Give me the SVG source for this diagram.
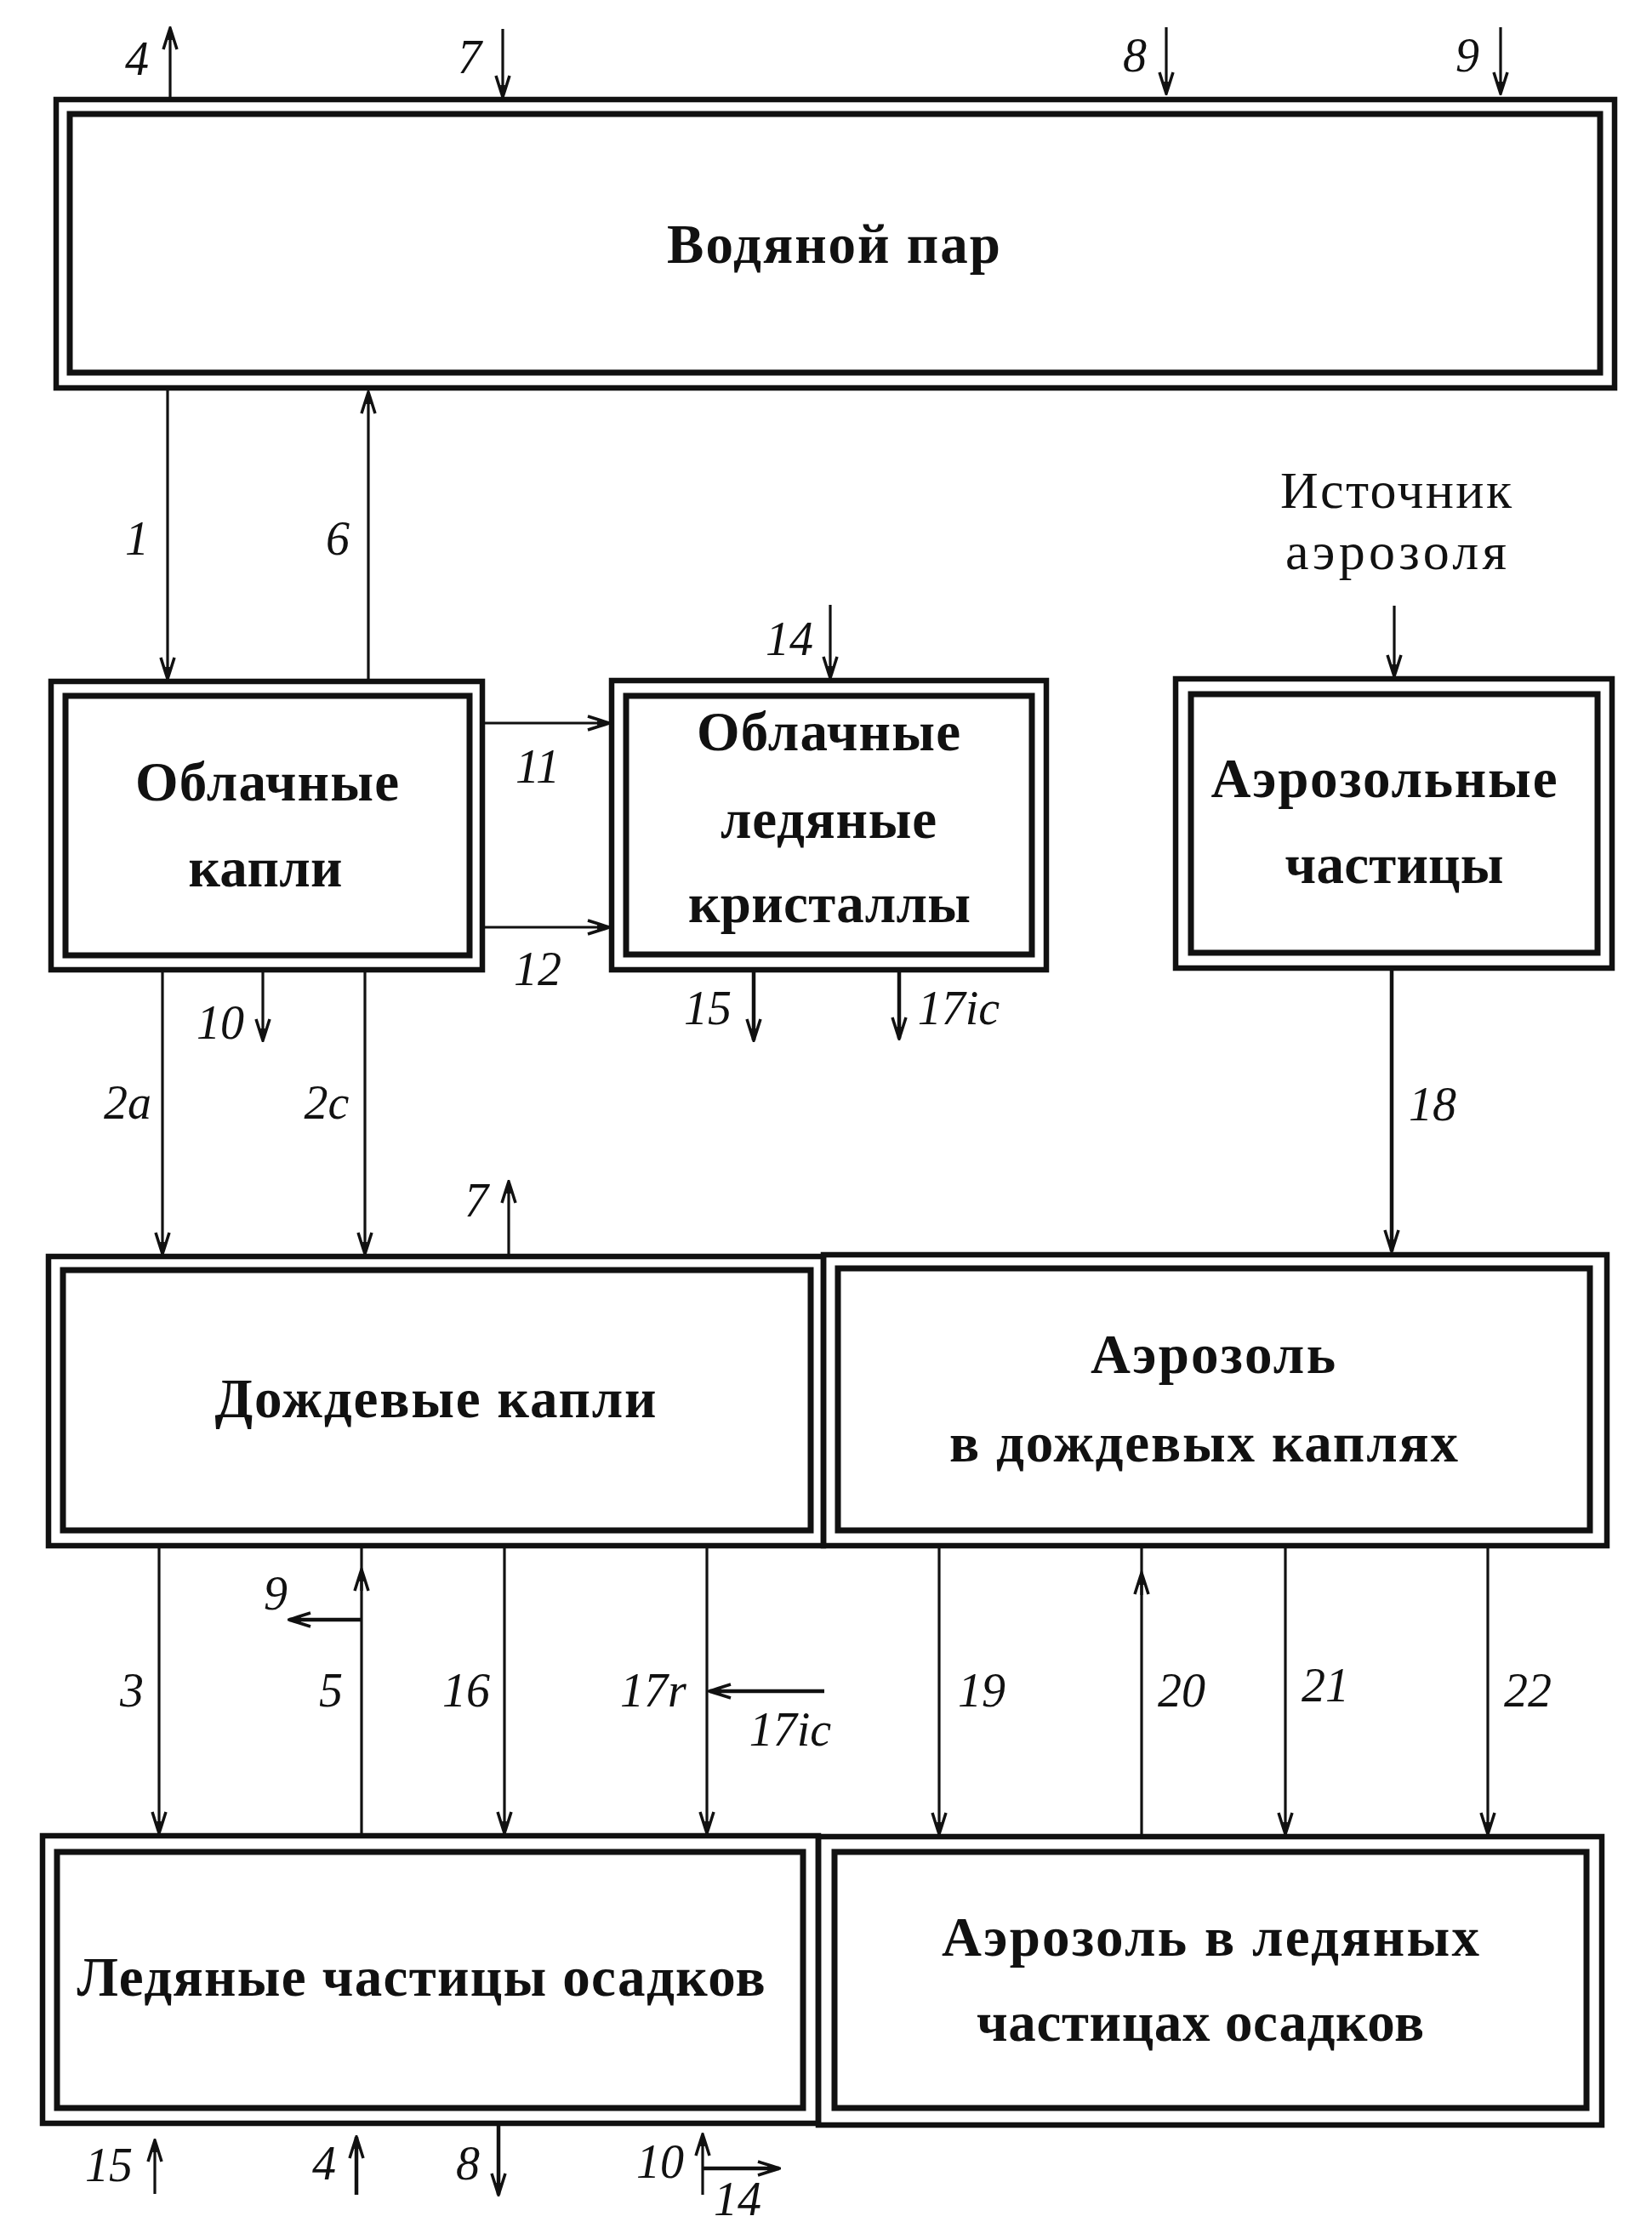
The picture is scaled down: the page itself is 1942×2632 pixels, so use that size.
<svg xmlns="http://www.w3.org/2000/svg" width="1942" height="2632" viewBox="0 0 1942 2632">
<style>
.o{fill:none;stroke:#111;stroke-width:6.5}
.i{fill:none;stroke:#111;stroke-width:7}
.n{font-family:"Liberation Serif","DejaVu Serif",serif;font-weight:bold;font-size:65px;fill:#111;text-anchor:middle}
.s{font-family:"Liberation Serif","DejaVu Serif",serif;font-size:62px;fill:#111;text-anchor:middle}
.l{font-family:"Liberation Serif","DejaVu Serif",serif;font-style:italic;font-size:56px;fill:#111;text-anchor:middle}
.c{fill:none;stroke:#111;stroke-width:3.2}
.t{fill:none;stroke:#111;stroke-width:4.5}
.a{marker-end:url(#ah)}
</style>
<defs>
<marker id="ah" viewBox="-28 -11 30 22" refX="0" refY="0" markerWidth="30" markerHeight="22" markerUnits="userSpaceOnUse" orient="auto">
<path d="M-25,-8 Q-9,-3 0,0 Q-9,3 -25,8" fill="none" stroke="#111" stroke-width="3.5"/>
<path d="M-14,-3 L0,0 L-14,3 Z" fill="#111"/>
</marker>
</defs>
<rect width="1942" height="2632" fill="#fff"/>

<g id="vapor">
<rect class="o" x="66" y="117" width="1832" height="339"/>
<rect class="i" x="82" y="134" width="1799" height="304"/>
<text class="n" x="980" y="309" textLength="392">Водяной пар</text>
</g>

<g id="cloud-drops">
<rect class="o" x="60" y="801" width="507" height="339"/>
<rect class="i" x="77" y="818" width="475" height="305"/>
<text class="n" x="314" y="941" textLength="310">Облачные</text>
<text class="n" x="312" y="1042" textLength="181">капли</text>
</g>

<g id="cloud-ice">
<rect class="o" x="719" y="800" width="511" height="340"/>
<rect class="i" x="736" y="818" width="477" height="304"/>
<text class="n" x="974" y="882" textLength="310">Облачные</text>
<text class="n" x="974" y="985" textLength="254">ледяные</text>
<text class="n" x="975" y="1084" textLength="332">кристаллы</text>
</g>

<g id="aerosol-source">
<text class="s" x="1641" y="597" textLength="272">Источник</text>
<text class="s" x="1641" y="669" textLength="260">аэрозоля</text>
</g>

<g id="aerosol-particles">
<rect class="o" x="1382" y="798" width="513" height="340"/>
<rect class="i" x="1400" y="816" width="478" height="304"/>
<text class="n" x="1627" y="937" textLength="407">Аэрозольные</text>
<text class="n" x="1639" y="1038" textLength="257">частицы</text>
</g>

<g id="rain-drops">
<rect class="o" x="57" y="1477" width="911" height="340"/>
<rect class="i" x="74" y="1493" width="879" height="306"/>
<text class="n" x="512" y="1666" textLength="519">Дождевые капли</text>
</g>

<g id="aerosol-rain">
<rect class="o" x="968" y="1475" width="921" height="342"/>
<rect class="i" x="985" y="1491" width="884" height="308"/>
<text class="n" x="1426" y="1614" textLength="288">Аэрозоль</text>
<text class="n" x="1415" y="1718" textLength="598">в дождевых каплях</text>
</g>

<g id="ice-precip">
<rect class="o" x="50" y="2158" width="912" height="338"/>
<rect class="i" x="67" y="2177" width="877" height="301"/>
<text class="n" x="495" y="2346" textLength="809">Ледяные частицы осадков</text>
</g>

<g id="aerosol-ice">
<rect class="o" x="962" y="2159" width="921" height="339"/>
<rect class="i" x="981" y="2177" width="884" height="301"/>
<text class="n" x="1423" y="2299" textLength="632">Аэрозоль в ледяных</text>
<text class="n" x="1411" y="2399" textLength="526">частицах осадков</text>
</g>

<g id="connectors">
<path class="c a" d="M200,114 L200,33"/>
<path class="c a" d="M591,34 L591,114"/>
<path class="c a" d="M1371,32 L1371,110"/>
<path class="c a" d="M1764,32 L1764,110"/>
<path class="c a" d="M197,459 L197,798"/>
<path class="c a" d="M433,798 L433,461"/>
<path class="c a" d="M570,850 L716,850"/>
<path class="c a" d="M570,1090 L716,1090"/>
<path class="c a" d="M976,711 L976,797"/>
<path class="c a" d="M1639,712 L1639,795"/>
<path class="c a" d="M309,1143 L309,1223"/>
<path class="t a" d="M886,1143 L886,1223"/>
<path class="t a" d="M1057,1143 L1057,1221"/>
<path class="c a" d="M191,1143 L191,1474"/>
<path class="c a" d="M429,1143 L429,1474"/>
<path class="t a" d="M1636,1141 L1636,1471"/>
<path class="c a" d="M598,1474 L598,1389"/>
<path class="c a" d="M187,1820 L187,2155"/>
<path class="c" d="M425,2155 L425,1820"/>
<path class="c a" d="M425,1870 L425,1845"/>
<path class="t a" d="M425,1904 L340,1904"/>
<path class="c a" d="M593,1820 L593,2155"/>
<path class="c a" d="M831,1820 L831,2155"/>
<path class="t a" d="M969,1988 L834,1988"/>
<path class="c a" d="M1104,1820 L1104,2156"/>
<path class="c" d="M1342,2156 L1342,1820"/>
<path class="c a" d="M1342,1875 L1342,1849"/>
<path class="c a" d="M1511,1820 L1511,2156"/>
<path class="c a" d="M1749,1820 L1749,2156"/>
<path class="c a" d="M182,2579 L182,2516"/>
<path class="t a" d="M419,2580 L419,2512"/>
<path class="t a" d="M586,2499 L586,2580"/>
<path class="c a" d="M826,2580 L826,2509"/>
<path class="t a" d="M826,2549 L916,2549"/>
</g>

<g id="labels">
<text class="l" x="161" y="88">4</text>
<text class="l" x="552" y="86">7</text>
<text class="l" x="1334" y="84">8</text>
<text class="l" x="1725" y="84">9</text>
<text class="l" x="161" y="652">1</text>
<text class="l" x="397" y="652">6</text>
<text class="l" x="632" y="920">11</text>
<text class="l" x="632" y="1158">12</text>
<text class="l" x="928" y="770">14</text>
<text class="l" x="832" y="1204">15</text>
<text class="l" x="1127" y="1204">17ic</text>
<text class="l" x="259" y="1221">10</text>
<text class="l" x="150" y="1315">2a</text>
<text class="l" x="384" y="1315">2c</text>
<text class="l" x="1684" y="1317">18</text>
<text class="l" x="560" y="1430">7</text>
<text class="l" x="324" y="1892">9</text>
<text class="l" x="155" y="2006">3</text>
<text class="l" x="389" y="2006">5</text>
<text class="l" x="548" y="2006">16</text>
<text class="l" x="768" y="2006">17r</text>
<text class="l" x="929" y="2052">17ic</text>
<text class="l" x="1154" y="2006">19</text>
<text class="l" x="1389" y="2006">20</text>
<text class="l" x="1558" y="2000">21</text>
<text class="l" x="1796" y="2006">22</text>
<text class="l" x="128" y="2564">15</text>
<text class="l" x="381" y="2562">4</text>
<text class="l" x="550" y="2562">8</text>
<text class="l" x="776" y="2560">10</text>
<text class="l" x="867" y="2604">14</text>
</g>
</svg>
